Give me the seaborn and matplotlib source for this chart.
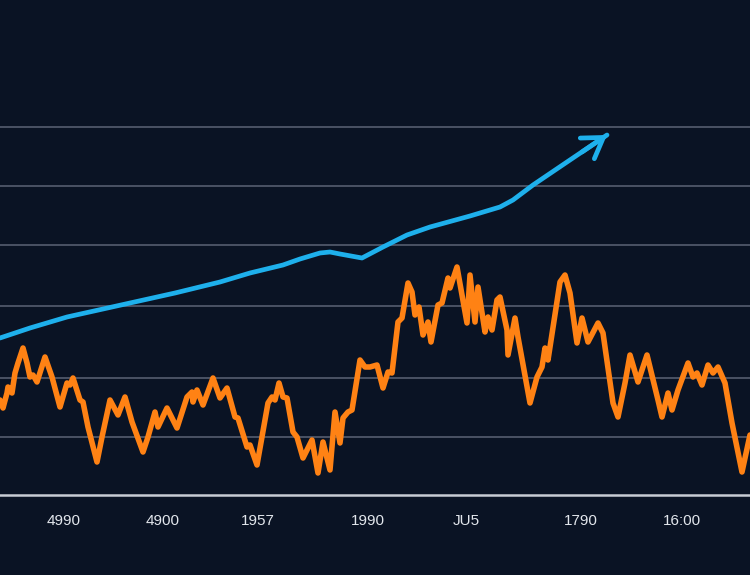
import pandas as pd
import numpy as np
import seaborn as sns
import matplotlib.pyplot as plt

# orange series (jagged)
orange_x = [0, 3, 7, 8, 12, 15, 18, 23, 27, 30, 33, 37, 45, 52, 60, 67, 70, 73, 80, 83,
            88, 97, 102, 110, 118, 125, 132, 143, 148, 155, 158, 167, 177, 187, 192, 193,
            197, 203, 213, 220, 227, 235, 238, 247, 250, 257, 268, 272, 275, 279, 283, 287,
            293, 297, 303, 312, 318, 323, 330, 335, 340, 343, 348, 352, 360, 365, 370, 377,
            383, 388, 392, 398, 402, 408, 412, 415, 419, 423, 428, 431, 438, 442, 448, 450,
            457, 467, 470, 475, 478, 485, 488, 492, 497, 500, 507, 508, 515, 518, 530, 537,
            542, 545, 548, 560, 565, 570, 577, 582, 588, 598, 603, 613, 618, 625, 630, 638,
            647, 658, 662, 668, 672, 678, 688, 693, 697, 702, 708, 713, 718, 725, 732, 742, 750]
orange_y = [95, 87, 102, 108, 102, 122, 132, 147, 132, 118, 120, 113, 138, 118, 88, 112, 110, 117, 95, 93,
            68, 33, 58, 95, 80, 98, 73, 43, 58, 83, 68, 87, 67, 98, 103, 93,
            105, 90, 117, 97, 107, 78, 77, 48, 50, 30, 92, 98, 95, 112, 98, 97,
            63, 58, 37, 55, 22, 53, 25, 83, 52, 77, 83, 85, 135, 128, 128, 130,
            107, 123, 122, 173, 177, 212, 203, 180, 188, 160, 173, 153, 190, 192, 217, 207,
            228, 172, 220, 173, 208, 163, 178, 165, 195, 198, 165, 140, 177, 158, 92, 118,
            128, 147, 135, 213, 220, 202, 152, 177, 153, 172, 162, 92, 78, 112, 140, 113,
            140, 95, 78, 102, 85, 105, 132, 118, 122, 110, 130, 122, 128, 112, 72, 23, 60]

# blue trend series (ends in an arrow)
blue_x = [0, 30, 67, 130, 175, 220, 250, 283, 300, 320, 330, 340, 362,
          383, 407, 430, 470, 500, 513, 533, 567, 607]
blue_y = [157, 167, 178, 192, 202, 213, 222, 230, 236, 242, 243, 241, 237,
          248, 260, 268, 279, 288, 295, 310, 333, 360]

tick_pos = [64, 163, 258, 368, 466, 581, 682]
tick_labels = ['4990', '4900', '1957', '1990', 'JU5', '1790', '16:00']
grid_levels = [58, 117, 189, 250, 309, 368]

bg = '#0a1324'
sns.set_style('dark', {'axes.facecolor': bg, 'figure.facecolor': bg})
plt.rcParams['font.family'] = ['Liberation Sans', 'DejaVu Sans']

df_o = pd.DataFrame({'x': orange_x, 'y': orange_y})
df_b = pd.DataFrame({'x': blue_x, 'y': blue_y})

fig = plt.figure(figsize=(7.5, 5.75), dpi=100)
ax = fig.add_axes([0, 80 / 575, 1, 495 / 575])

sns.lineplot(data=df_o, x='x', y='y', ax=ax, color='#ff8214', linewidth=4.0,
             estimator=None, solid_joinstyle='round', solid_capstyle='round')
sns.lineplot(data=df_b, x='x', y='y', ax=ax, color='#1eb0ec', linewidth=3.4,
             estimator=None, solid_joinstyle='round', solid_capstyle='round')
ax.annotate('', xy=(blue_x[-1], blue_y[-1]), xytext=(blue_x[-2] + 15, blue_y[-2] + 10),
            arrowprops=dict(arrowstyle='->,head_length=1.4,head_width=0.9', color='#1eb0ec',
                            lw=3.4, shrinkA=0, shrinkB=0, capstyle='round', joinstyle='round'))

ax.set_xlim(0, 750)
ax.set_ylim(0, 495)
ax.set_yticks(grid_levels)
ax.set_yticklabels([])
ax.tick_params(axis='y', length=0)
ax.grid(axis='y', color='#4a5264', linewidth=1.4)
ax.grid(axis='x', visible=False)
ax.set_axisbelow(True)

ax.set_xticks(tick_pos)
ax.set_xticklabels(tick_labels, color='#e2e6ec', fontsize=11)
ax.tick_params(axis='x', length=6, width=1.3, color='#c8ccd4', pad=8)
ax.set_xlabel('')
ax.set_ylabel('')

for s in ['top', 'left', 'right']:
    ax.spines[s].set_visible(False)
ax.spines['bottom'].set_color('#c8ccd4')
ax.spines['bottom'].set_linewidth(1.8)

fig.savefig('out.png', dpi=100, facecolor=bg)
